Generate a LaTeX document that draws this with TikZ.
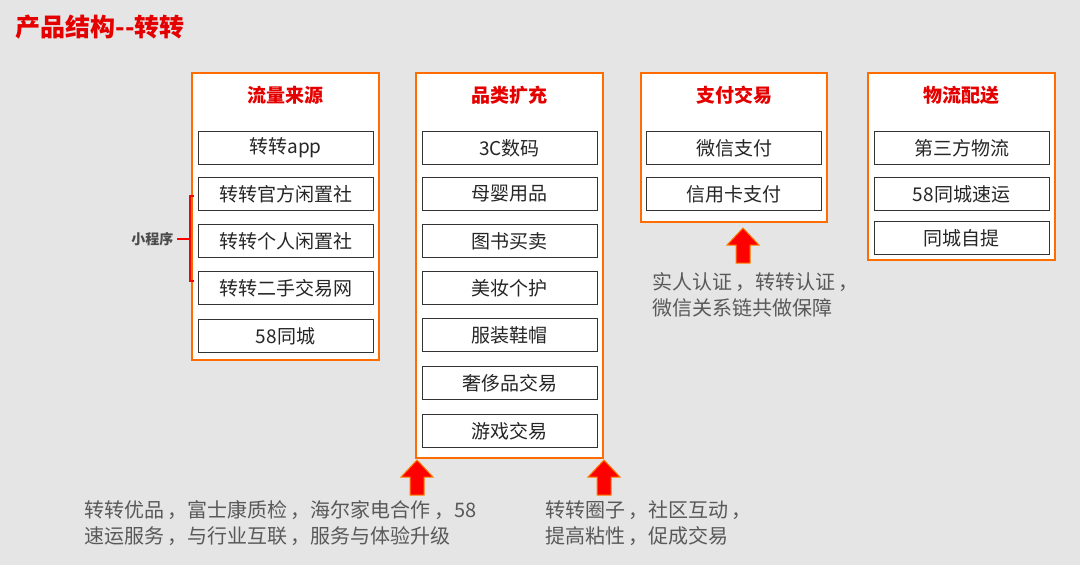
\documentclass[tikz,border=0pt]{standalone}
\usepackage{fontspec}
\setmainfont{Noto Sans CJK SC}
\tikzset{
 col/.style={draw=orange!85!red, line width=2pt, fill=white},
 item/.style={draw=black!80, line width=1pt, fill=white, minimum width=175pt, minimum height=33pt, font=\fontsize{19}{21}\selectfont, text=black!85},
 hdr/.style={font=\fontsize{19}{21}\selectfont\bfseries, text=red!90!black},
 note/.style={font=\fontsize{20}{26}\selectfont, text=black!65, anchor=north west, align=left, inner sep=0pt},
 uparr/.style={fill=red, draw=orange, line width=1pt},
}
\begin{document}
\begin{tikzpicture}[x=1pt,y=-1pt]
\fill[black!10] (0,0) rectangle (1080,565);
\useasboundingbox (0,0) rectangle (1080,565);
\node[anchor=west, font=\fontsize{25}{27}\selectfont\bfseries, text=red!90!black] (title) at (12,27) {产品结构{-}{-}转转};
% column 1
\draw[col] (192,73) rectangle (379,360);
\node[hdr] (h1) at (285.5,95) {流量来源};
\foreach \t/\y [count=\i] in {转转app/148,转转官方闲置社/194,转转个人闲置社/241,转转二手交易网/288,58同城/336}
  \node[item] (a\i) at (285.5,\y) {\t};
% column 2
\draw[col] (416,73) rectangle (603,458);
\node[hdr] (h2) at (509.5,95) {品类扩充};
\foreach \t/\y [count=\i] in {3C数码/148,母婴用品/194,图书买卖/241,美妆个护/288,服装鞋帽/335,奢侈品交易/383,游戏交易/431}
  \node[item] (b\i) at (509.5,\y) {\t};
% column 3
\draw[col] (641,73) rectangle (827,222);
\node[hdr] (h3) at (734,95) {支付交易};
\foreach \t/\y [count=\i] in {微信支付/148,信用卡支付/194}
  \node[item] (c\i) at (734,\y) {\t};
% column 4
\draw[col] (868,73) rectangle (1055,260);
\node[hdr] (h4) at (961.5,95) {物流配送};
\foreach \t/\y [count=\i] in {第三方物流/148,58同城速运/194,同城自提/238}
  \node[item] (d\i) at (961.5,\y) {\t};
% bracket
\draw[red, line width=2pt] (194,196) -- (190,196) -- (190,281) -- (194,281);
\coordinate (bk) at (190,239);
\node[font=\fontsize{14}{16}\selectfont\bfseries, text=black!70, anchor=east] (xcx) at (177,239) {小程序};
\draw[red, line width=2pt] (xcx.east) -- (bk);
% arrows
\foreach \x/\y in {417/460, 604/460, 743/228}
  \draw[uparr] (\x,\y) -- (\x+16,\y+17) -- (\x+7,\y+17) -- (\x+7,\y+35) -- (\x-7,\y+35) -- (\x-7,\y+17) -- (\x-16,\y+17) -- cycle;
% notes
\node[note] (n1) at (84,500) {转转优品\,，富士康质检\,，海尔家电合作\,，58\\速运服务\,，与行业互联\,，服务与体验升级};
\node[note] (n2) at (545,500) {转转圈子\,，社区互动\,，\\提高粘性\,，促成交易};
\node[note] (n3) at (652,272) {实人认证\,，转转认证\,，\\微信关系链共做保障};
\end{tikzpicture}
\end{document}
